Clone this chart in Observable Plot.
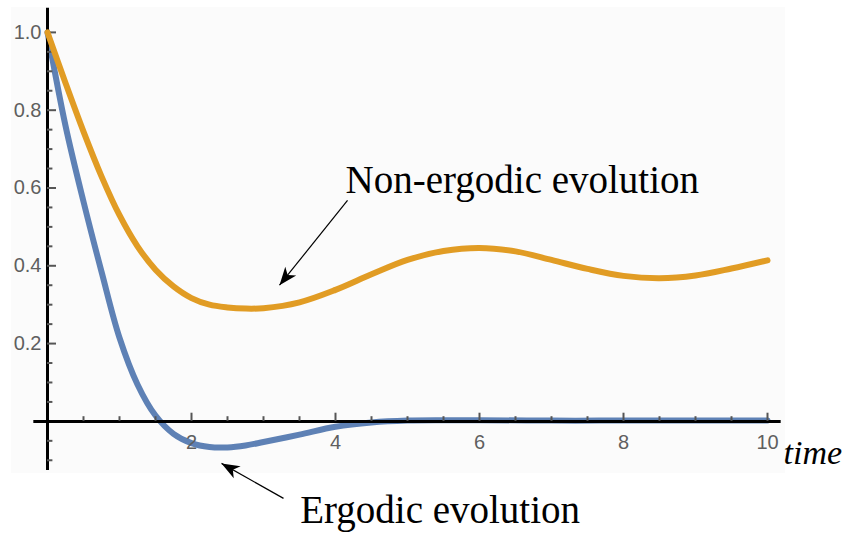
<!DOCTYPE html>
<html>
<head>
<meta charset="utf-8">
<script src="https://cdn.jsdelivr.net/npm/d3@7"></script>
<script src="https://cdn.jsdelivr.net/npm/@observablehq/plot@0.6"></script>
<style>
  html, body { margin: 0; padding: 0; background: #ffffff; }
  #chart svg { display: block; }
</style>
</head>
<body>
<div id="chart"></div>
<script>
// ---- data ----
const ergodicTime = [0, 0.25, 0.5, 0.75, 1, 1.25, 1.5, 1.75, 2, 2.25, 2.5, 2.75, 3, 3.5, 4, 4.5, 5, 5.5, 6, 7, 8, 9, 10];
const ergodicValue = [1.0, 0.76, 0.565, 0.385, 0.215, 0.095, 0.015, -0.032, -0.056, -0.066, -0.067, -0.062, -0.053, -0.034, -0.014, -0.003, 0.002, 0.003, 0.003, 0.002, 0.002, 0.002, 0.002];

const nonErgodicTime = [0, 0.25, 0.5, 0.75, 1, 1.25, 1.5, 1.75, 2, 2.25, 2.5, 2.75, 3, 3.5, 4, 4.5, 5, 5.5, 6, 6.5, 7, 7.5, 8, 8.5, 9, 9.5, 10];
const nonErgodicValue = [1.0, 0.87, 0.745, 0.63, 0.53, 0.45, 0.39, 0.347, 0.317, 0.300, 0.293, 0.290, 0.291, 0.306, 0.338, 0.378, 0.415, 0.438, 0.446, 0.437, 0.415, 0.392, 0.374, 0.368, 0.375, 0.393, 0.414];

const xMajorTicks = [2, 4, 6, 8, 10];
const xTickLabels = ["2", "4", "6", "8", "10"];
const xMinorTicks = [0.5, 1, 1.5, 2.5, 3, 3.5, 4.5, 5, 5.5, 6.5, 7, 7.5, 8.5, 9, 9.5];
const yMajorTicks = [0.2, 0.4, 0.6, 0.8, 1.0];
const yTickLabels = ["0.2", "0.4", "0.6", "0.8", "1.0"];
const yMinorTicks = [-0.1, -0.05, 0.05, 0.1, 0.15, 0.25, 0.3, 0.35, 0.45, 0.5, 0.55, 0.65, 0.7, 0.75, 0.85, 0.9, 0.95];

const axisLabel = "time";
const annotationText = ["Non-ergodic evolution", "Ergodic evolution"];
const annotationX = [4.14, 3.51];
const annotationY = [0.618, -0.23];
const arrowFromX = [4.167, 3.278];
const arrowFromY = [0.568, -0.198];
const arrowToX = [3.222, 2.417];
const arrowToY = [0.350, -0.108];

// ---- tables built from the arrays ----
const ergodic = ergodicTime.map((t, i) => ({t, v: ergodicValue[i]}));
const nonErgodic = nonErgodicTime.map((t, i) => ({t, v: nonErgodicValue[i]}));
const xLabels = xMajorTicks.map((t, i) => ({t, label: xTickLabels[i]}));
const yLabels = yMajorTicks.map((v, i) => ({v, label: yTickLabels[i]}));
const annotations = annotationText.map((label, i) => ({label, x: annotationX[i], y: annotationY[i]}));
const arrows = arrowFromX.map((x1, i) => ({x1, y1: arrowFromY[i], x2: arrowToX[i], y2: arrowToY[i]}));

const BLUE = "#5E81B5";
const ORANGE = "#E19C24";
const TICK = "#555555";
const SERIF = "'Liberation Serif', serif";
const SANS = "'Liberation Sans', Arial, sans-serif";

function arrowHead(color) {
  const m = d3.create("svg:marker")
    .attr("viewBox", "-19 -8 20 16")
    .attr("markerWidth", 20)
    .attr("markerHeight", 16)
    .attr("markerUnits", "userSpaceOnUse")
    .attr("orient", "auto");
  m.append("path")
    .attr("fill", color)
    .attr("stroke", "none")
    .attr("d", "M0,0L-18,-7L-13,0L-18,7Z");
  return m.node();
}

const chart = Plot.plot({
  width: 850,
  height: 534,
  marginLeft: 47,
  marginRight: 83,
  marginTop: 7,
  marginBottom: 61,
  x: {domain: [0, 10], axis: null},
  y: {domain: [-0.134, 1.064], axis: null},
  marks: [
    // faint plot background
    Plot.rect([{x1: -0.5, x2: 10.25, y1: -0.134, y2: 1.064}], {x1: "x1", x2: "x2", y1: "y1", y2: "y2", fill: "#fbfbfb"}),
    // ergodic curve
    Plot.line(ergodic, {x: "t", y: "v", stroke: BLUE, strokeWidth: 6, curve: "catmull-rom"}),
    // axes lines
    Plot.ruleX([0], {y1: -0.126, y2: 1.062, stroke: "black", strokeWidth: 3}),
    Plot.ruleY([0], {x1: -0.19, x2: 10.19, stroke: "black", strokeWidth: 3}),
    // ticks
    Plot.ruleX(xMajorTicks, {x: d => d, y1: 0, y2: 0.021, stroke: TICK, strokeWidth: 2}),
    Plot.ruleX(xMinorTicks, {x: d => d, y1: 0, y2: 0.012, stroke: TICK, strokeWidth: 2}),
    Plot.ruleY(yMajorTicks, {y: d => d, x1: 0, x2: 0.125, stroke: TICK, strokeWidth: 2}),
    Plot.ruleY(yMinorTicks, {y: d => d, x1: 0, x2: 0.075, stroke: TICK, strokeWidth: 2}),
    // tick labels
    Plot.text(yLabels, {x: 0, y: "v", text: "label", textAnchor: "end", dx: -6, fill: "#5f5f5f", fontSize: 20, fontFamily: SANS}),
    Plot.text(xLabels, {x: "t", y: 0, text: "label", dy: 21, fill: "#5f5f5f", fontSize: 20, fontFamily: SANS}),
    // axis label
    Plot.text([axisLabel], {x: 10, y: 0, text: d => d, textAnchor: "start", dx: 16, dy: 32, fill: "black", fontSize: 34, fontStyle: "italic", fontFamily: SERIF}),
    // non-ergodic curve
    Plot.line(nonErgodic, {x: "t", y: "v", stroke: ORANGE, strokeWidth: 6, curve: "catmull-rom"}),
    // annotations
    Plot.link(arrows, {x1: "x1", y1: "y1", x2: "x2", y2: "y2", stroke: "black", strokeWidth: 1.2, markerEnd: arrowHead}),
    Plot.text(annotations, {x: "x", y: "y", text: "label", textAnchor: "start", fill: "black", fontSize: 39, fontFamily: SERIF})
  ]
});

// make sure the large annotation texts use the serif face
d3.select(chart).selectAll('g[aria-label="text"]').each(function () {
  const fs = +this.getAttribute("font-size");
  if (fs >= 30) {
    d3.select(this).style("font-family", '"Liberation Serif", serif');
    d3.select(this).selectAll("text").style("font-family", '"Liberation Serif", serif');
  }
});

document.getElementById("chart").appendChild(chart);
</script>
</body>
</html>
